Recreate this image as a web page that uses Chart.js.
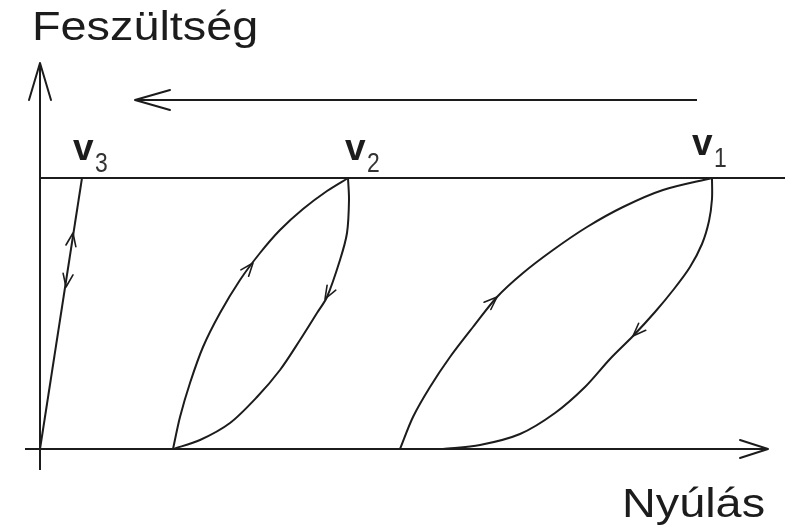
<!DOCTYPE html>
<html>
<head>
<meta charset="utf-8">
<script src="https://cdn.jsdelivr.net/npm/chart.js@4.4.0/dist/chart.umd.min.js"></script>
<style>
  html, body { margin: 0; padding: 0; background: #fff; }
  #wrap { width: 798px; height: 532px; }
</style>
</head>
<body>
<div id="wrap"><canvas id="hysteresisChart"></canvas></div>
<script>
// Nyúlás (x) and Feszültség (y), origin where the axes cross
const v3X = [0, 42];
const v3Y = [0, 271];

const v2LoadX = [133, 140, 150, 163, 180, 200, 220, 240, 263, 287, 308];
const v2LoadY = [0, 32, 66, 102, 136, 169, 196, 219, 240, 258, 271];
const v2UnloadX = [308, 309, 307, 300, 287, 277, 260, 240, 217, 190, 160, 133];
const v2UnloadY = [271, 249, 216, 189, 152, 136, 109, 79, 52, 26, 9, 0];

const v1LoadX = [360, 373, 390, 410, 433, 457, 483, 513, 547, 583, 623, 672];
const v1LoadY = [0, 32, 62, 92, 122, 152, 176, 199, 222, 242, 259, 271];
const v1UnloadX = [672, 672, 669, 662, 650, 634, 615, 593, 570, 545, 515, 480, 440, 403];
const v1UnloadY = [271, 250, 228, 205, 182, 160, 137, 113, 90, 62, 36, 15, 4, 0];

// axes and guide lines
const xAxisX = [-15, 728];
const xAxisY = [0, 0];
const yAxisX = [0, 0];
const yAxisY = [-21, 386];
const vLevelX = [0, 745];
const vLevelY = [271, 271];
const orderX = [657, 95];
const orderY = [349, 349];

// direction marks on the curves: point on curve, then a point it heads to
const curveMarks = [
  [33, 216, 42, 271],
  [26, 162, 0, 0],
  [213, 186, 240, 219],
  [285, 150, 277, 136],
  [457, 152, 483, 176],
  [593, 113, 570, 90]
];

const ink = '#1c1c1c';

function pts(xs, ys) {
  return xs.map((x, i) => ({ x: x, y: ys[i] }));
}

function lineSet(xs, ys, width, tension) {
  return {
    data: pts(xs, ys),
    showLine: true,
    borderColor: ink,
    borderWidth: width,
    pointRadius: 0,
    tension: tension,
    fill: false
  };
}

// open arrowhead with its tip at (tx, ty), travelling away from (fx, fy)
function head(ctx, tx, ty, fx, fy, len, half) {
  let dx = tx - fx, dy = ty - fy;
  const d = Math.hypot(dx, dy);
  dx /= d; dy /= d;
  const bx = tx - dx * len, by = ty - dy * len;
  ctx.beginPath();
  ctx.moveTo(bx - dy * half, by + dx * half);
  ctx.lineTo(tx, ty);
  ctx.lineTo(bx + dy * half, by - dx * half);
  ctx.stroke();
}

function wideText(ctx, text, x, y, font, sx) {
  ctx.save();
  ctx.font = font;
  ctx.translate(x, y);
  ctx.scale(sx, 1);
  ctx.fillText(text, 0, 0);
  ctx.restore();
}

const decorPlugin = {
  id: 'decor',
  afterDatasetsDraw(chart) {
    const ctx = chart.ctx;
    const xs = chart.scales.x, ys = chart.scales.y;
    const px = v => xs.getPixelForValue(v);
    const py = v => ys.getPixelForValue(v);
    ctx.save();
    ctx.strokeStyle = ink;
    ctx.fillStyle = ink;
    ctx.lineWidth = 2;
    ctx.lineCap = 'round';
    ctx.lineJoin = 'round';

    // axis arrowheads
    head(ctx, px(xAxisX[1]), py(xAxisY[1]), px(xAxisX[0]), py(xAxisY[0]), 28, 9);
    head(ctx, px(yAxisX[1]), py(yAxisY[1]), px(yAxisX[0]), py(yAxisY[0]), 37, 11);
    head(ctx, px(orderX[1]), py(orderY[1]), px(orderX[0]), py(orderY[0]), 35, 10);

    // small marks along the loops
    ctx.lineWidth = 1.6;
    curveMarks.forEach(m => {
      const tx = px(m[0]), ty = py(m[1]);
      const ax = px(m[2]), ay = py(m[3]);
      head(ctx, tx, ty, 2 * tx - ax, 2 * ty - ay, 13, 5);
    });

    // text
    ctx.textBaseline = 'alphabetic';
    ctx.textAlign = 'left';
    const family = '"Liberation Sans", Arial, sans-serif';
    wideText(ctx, 'Feszültség', 32, 40, '40px ' + family, 1.17);
    wideText(ctx, 'Nyúlás', 622, 517, '40px ' + family, 1.17);

    const labels = [
      ['3', 73, 160],
      ['2', 345, 160],
      ['1', 692, 155]
    ];
    labels.forEach(l => {
      wideText(ctx, 'v', l[1], l[2], 'bold 37px ' + family, 1.0);
      ctx.fillStyle = '#333';
      wideText(ctx, l[0], l[1] + 22, l[2] + 12, '27px ' + family, 0.85);
      ctx.fillStyle = ink;
    });
    ctx.restore();
  }
};

new Chart(document.getElementById('hysteresisChart').getContext('2d'), {
  type: 'scatter',
  data: {
    datasets: [
      lineSet(xAxisX, xAxisY, 2, 0),
      lineSet(yAxisX, yAxisY, 2, 0),
      lineSet(vLevelX, vLevelY, 2, 0),
      lineSet(orderX, orderY, 2, 0),
      lineSet(v3X, v3Y, 2, 0),
      lineSet(v2LoadX, v2LoadY, 2, 0.3),
      lineSet(v2UnloadX, v2UnloadY, 2, 0.3),
      lineSet(v1LoadX, v1LoadY, 2, 0.3),
      lineSet(v1UnloadX, v1UnloadY, 2, 0.3)
    ]
  },
  options: {
    responsive: true,
    maintainAspectRatio: false,
    animation: false,
    layout: { padding: 0 },
    plugins: {
      legend: { display: false },
      tooltip: { enabled: false },
      title: { display: false }
    },
    scales: {
      x: { type: 'linear', min: -40, max: 758, display: false },
      y: { type: 'linear', min: -83, max: 449, display: false }
    }
  },
  plugins: [decorPlugin]
});
</script>
</body>
</html>
